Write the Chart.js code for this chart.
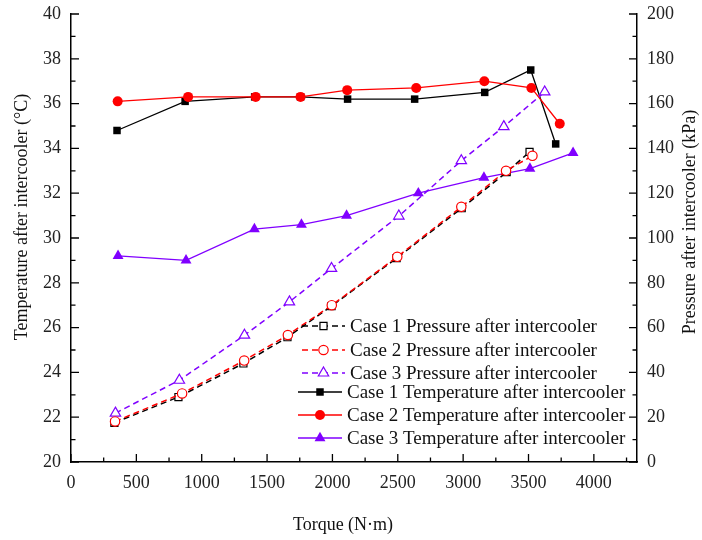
<!DOCTYPE html>
<html>
<head>
<meta charset="utf-8">
<script src="https://cdn.jsdelivr.net/npm/chart.js@4/dist/chart.umd.min.js"></script>
<style>
  html, body { margin: 0; padding: 0; background: #fff; }
  #wrap { width: 702px; height: 540px; }
</style>
</head>
<body>
<div id="wrap"><canvas id="chart"></canvas></div>
<script>
// tick values
const torqueTicks = [0, 500, 1000, 1500, 2000, 2500, 3000, 3500, 4000];
const tempTicks = [20, 22, 24, 26, 28, 30, 32, 34, 36, 38, 40];
const pressTicks = [0, 20, 40, 60, 80, 100, 120, 140, 160, 180, 200];

// pressure after intercooler (kPa)
const case1PressTorque = [332, 822, 1319, 1656, 1993, 2491, 2989, 3333, 3508];
const case1Press = [17.5, 29.0, 44.0, 55.7, 69.6, 91.0, 113.3, 129.4, 138.4];
const case2PressTorque = [337, 850, 1325, 1659, 1995, 2496, 2986, 3328, 3530];
const case2Press = [18.1, 30.6, 45.3, 56.7, 70.0, 91.6, 113.9, 130.0, 136.7];
const case3PressTorque = [340, 829, 1327, 1671, 1993, 2508, 2986, 3311, 3624];
const case3Press = [21.8, 36.5, 56.6, 71.5, 86.4, 109.8, 134.5, 149.7, 165.2];

// temperature after intercooler (°C)
const case1TempTorque = [352, 873, 1405, 1756, 2116, 2629, 3165, 3517, 3708];
const case1Temp = [34.8, 36.1, 36.3, 36.3, 36.2, 36.2, 36.5, 37.5, 34.2];
const case2TempTorque = [357, 896, 1413, 1756, 2113, 2641, 3162, 3522, 3739];
const case2Temp = [36.1, 36.3, 36.3, 36.3, 36.6, 36.7, 37.0, 36.7, 35.1];
const case3TempTorque = [360, 880, 1403, 1763, 2108, 2657, 3159, 3511, 3841];
const case3Temp = [29.2, 29.0, 30.4, 30.6, 31.0, 32.0, 32.7, 33.1, 33.8];

const FONT = 'Liberation Serif, "Times New Roman", serif';
const PURPLE = '#8000ff';

function pts(xs, ys) {
  return xs.map((x, i) => ({ x: x, y: ys[i] }));
}

function pressSet(label, xs, ys, color, shape, r) {
  return {
    label: label, data: pts(xs, ys), yAxisID: 'yP',
    borderColor: color, borderWidth: 1.5, borderDash: [6, 4],
    pointStyle: shape, pointRadius: r, pointBorderWidth: 1.2,
    pointBorderColor: color, pointBackgroundColor: '#fff',
    tension: 0, fill: false
  };
}

function tempSet(label, xs, ys, color, shape, r) {
  return {
    label: label, data: pts(xs, ys), yAxisID: 'yT',
    borderColor: color, borderWidth: 1.3,
    pointStyle: shape, pointRadius: r, pointBorderWidth: 0,
    pointBorderColor: color, pointBackgroundColor: color,
    tension: 0, fill: false
  };
}

const datasets = [
  pressSet('Case 1 Pressure after intercooler', case1PressTorque, case1Press, '#000', 'rect', 5),
  pressSet('Case 2 Pressure after intercooler', case2PressTorque, case2Press, '#ff0000', 'circle', 4.7),
  pressSet('Case 3 Pressure after intercooler', case3PressTorque, case3Press, PURPLE, 'triangle', 6),
  tempSet('Case 1 Temperature after intercooler', case1TempTorque, case1Temp, '#000', 'rect', 5.3),
  tempSet('Case 2 Temperature after intercooler', case2TempTorque, case2Temp, '#ff0000', 'circle', 5),
  tempSet('Case 3 Temperature after intercooler', case3TempTorque, case3Temp, PURPLE, 'triangle', 6.3)
];
// case 2 pressure above case 1 pressure
datasets[0].order = 2;
datasets[1].order = 1;
datasets[2].order = 3;
datasets[3].order = 5;
datasets[4].order = 4;
datasets[5].order = 6;

// inward tick marks, axis titles, legend inside the plot
const decor = {
  id: 'decor',
  afterDraw(chart) {
    const ctx = chart.ctx;
    const a = chart.chartArea;
    const sx = chart.scales.x, st = chart.scales.yT, sp = chart.scales.yP;
    ctx.save();
    ctx.strokeStyle = '#000';
    ctx.lineWidth = 1.3;
    ctx.beginPath();
    for (let v = 0; v <= 4330; v += 250) {
      const px = sx.getPixelForValue(v);
      const len = v % 500 === 0 ? 8 : 4.5;
      ctx.moveTo(px, a.bottom); ctx.lineTo(px, a.bottom - len);
    }
    for (let v = 20; v <= 40; v += 1) {
      const py = st.getPixelForValue(v);
      const len = v % 2 === 0 ? 8 : 4.5;
      ctx.moveTo(a.left, py); ctx.lineTo(a.left + len, py);
    }
    for (let v = 0; v <= 200; v += 10) {
      const py = sp.getPixelForValue(v);
      const len = v % 20 === 0 ? 8 : 4.5;
      ctx.moveTo(a.right, py); ctx.lineTo(a.right - len, py);
    }
    ctx.stroke();

    // axis titles
    ctx.fillStyle = '#111';
    ctx.font = '18px ' + FONT;
    ctx.textAlign = 'center';
    ctx.textBaseline = 'middle';
    ctx.fillText('Torque (N\u00b7m)', 343, 525);
    ctx.save();
    ctx.translate(22, 217);
    ctx.rotate(-Math.PI / 2);
    ctx.fillText('Temperature after intercooler (\u00b0C)', 0, 0);
    ctx.restore();
    ctx.save();
    ctx.translate(690, 222);
    ctx.rotate(-Math.PI / 2);
    ctx.fillText('Pressure after intercooler (kPa)', 0, 0);
    ctx.restore();

    // legend
    const rows = [326, 350, 373, 392, 415, 438];
    ctx.font = '19px ' + FONT;
    ctx.textAlign = 'left';
    chart.data.datasets.forEach((ds, i) => {
      const y = rows[i];
      const isPress = i < 3;
      const x0 = isPress ? 302 : 298;
      const x1 = isPress ? 345 : 342;
      ctx.save();
      ctx.strokeStyle = ds.borderColor;
      ctx.lineWidth = ds.borderWidth;
      ctx.setLineDash(ds.borderDash || []);
      ctx.beginPath();
      ctx.moveTo(x0, y); ctx.lineTo(x1, y);
      ctx.stroke();
      ctx.setLineDash([]);
      ctx.fillStyle = ds.pointBackgroundColor;
      ctx.strokeStyle = ds.pointBorderColor;
      ctx.lineWidth = ds.pointBorderWidth || 0.01;
      Chart.helpers.drawPoint(ctx, {
        pointStyle: ds.pointStyle, radius: ds.pointRadius, rotation: 0,
        borderWidth: ds.pointBorderWidth
      }, (x0 + x1) / 2, y);
      ctx.restore();
      ctx.fillStyle = '#111';
      ctx.fillText(ds.label, isPress ? 350 : 347, y + 1);
    });
    ctx.restore();
  }
};

const tickFont = { family: FONT, size: 18 };
const plain = v => String(v);

new Chart(document.getElementById('chart'), {
  type: 'line',
  data: { datasets: datasets },
  options: {
    responsive: true,
    maintainAspectRatio: false,
    animation: false,
    devicePixelRatio: 1,
    layout: { padding: { top: 14, left: 0, right: 0, bottom: 0 } },
    plugins: { legend: { display: false }, tooltip: { enabled: false } },
    scales: {
      x: {
        type: 'linear', min: 0, max: 4330,
        grid: { display: false, drawTicks: false },
        border: { display: true, color: '#000', width: 1.5 },
        afterBuildTicks: s => { s.ticks = torqueTicks.map(v => ({ value: v })); },
        afterFit: s => { s.height = 78; s.paddingLeft = 0; s.paddingRight = 0; },
        ticks: { font: tickFont, color: '#222', padding: 10, maxRotation: 0, callback: plain }
      },
      yT: {
        type: 'linear', position: 'left', min: 20, max: 40,
        grid: { display: false, drawTicks: false },
        border: { display: true, color: '#000', width: 1.5 },
        afterBuildTicks: s => { s.ticks = tempTicks.map(v => ({ value: v })); },
        afterFit: s => { s.width = 71; s.paddingTop = 0; s.paddingBottom = 0; },
        ticks: { font: tickFont, color: '#222', padding: 10, callback: plain }
      },
      yP: {
        type: 'linear', position: 'right', min: 0, max: 200,
        grid: { display: false, drawTicks: false },
        border: { display: true, color: '#000', width: 1.5 },
        afterBuildTicks: s => { s.ticks = pressTicks.map(v => ({ value: v })); },
        afterFit: s => { s.width = 65; s.paddingTop = 0; s.paddingBottom = 0; },
        ticks: { font: tickFont, color: '#222', padding: 10, callback: plain }
      }
    }
  },
  plugins: [decor]
});
</script>
</body>
</html>
